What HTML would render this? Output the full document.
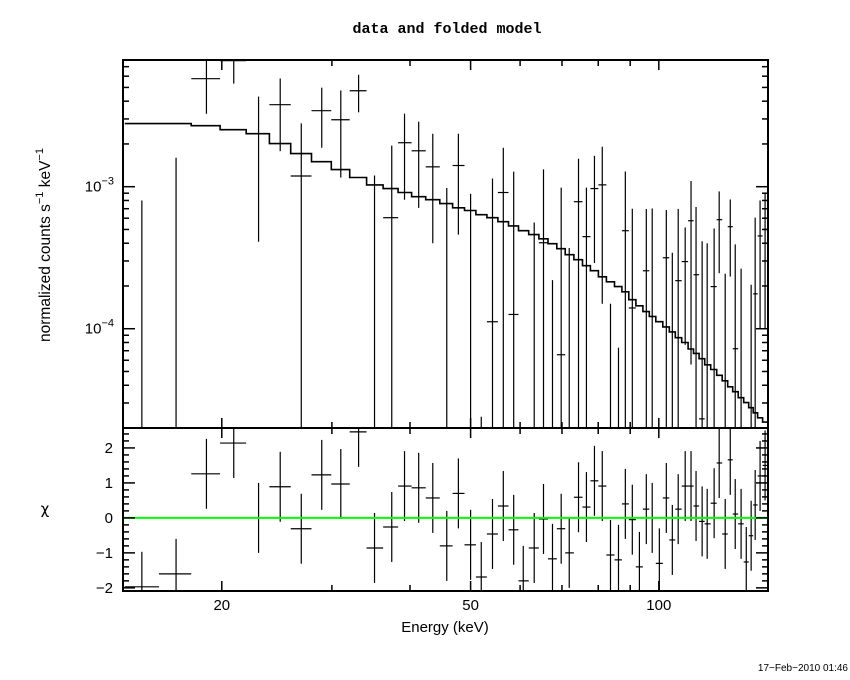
<!DOCTYPE html>
<html><head><meta charset="utf-8">
<style>
html,body{margin:0;padding:0;background:#fff;}
svg{display:block;font-family:"Liberation Sans",sans-serif;}
</style></head>
<body>
<svg id="chart" width="850" height="680" viewBox="0 0 850 680" xmlns="http://www.w3.org/2000/svg">
<rect x="0" y="0" width="850" height="680" fill="#fff"/>
<text x="447" y="33" text-anchor="middle" font-family="Liberation Mono, monospace" font-weight="bold" font-size="15">data and folded model</text>
<text transform="translate(50,245) rotate(-90)" text-anchor="middle" font-size="15.5">normalized counts s<tspan dy="-7" font-size="11">−1</tspan><tspan dy="7"> keV</tspan><tspan dy="-7" font-size="11">−1</tspan></text>
<text x="45" y="514" text-anchor="middle" font-size="15" font-family="DejaVu Sans, sans-serif">χ</text>
<text x="445" y="632" text-anchor="middle" font-size="15">Energy (keV)</text>
<text x="848" y="671" text-anchor="end" font-size="10">17−Feb−2010 01:46</text>
<g id="grid"></g>
<g id="marks"></g>
<g id="axes"></g>
</svg>
<script>
// ---- data ----
const energies = [14.9,16.9,18.9,20.9,22.9,24.8,26.8,28.9,31.0,33.1,35.1,37.4,39.2,41.3,43.5,45.8,47.8,50.0,52.0,54.2,56.4,58.6,60.7,63.2,65.4,67.6,69.8,71.9,74.4,76.6,78.9,81.2,83.7,86.2,88.4,90.7,93.1,95.5,97.6,100.2,102.8,105.1,107.4,110.2,112.6,114.7,117.3,119.5,122.6,124.9,127.7,130.1,132.5,135.4,138.0,140.5,142.6,145.2,147.9];
const fluxMilli = [0,0,5.76,7.72,2.36,3.78,1.19,3.43,2.96,4.74,0,0.605,2.04,1.79,1.38,0,1.41,0,0,0.112,0.91,0.126,0,0,0.403,0,0.0656,0,0.784,0.445,0.97,1.03,0,0,0.49,0.14,0,0.256,0.122,0,0.316,0,0.218,0.297,0.576,0.24,0.0232,0,0.198,0.586,0,0.523,0.0723,0,0,0,0.176,0.45,0.5];
const fluxErrMilli = [0.8,1.6,2.5,2.4,1.95,2.0,1.6,1.55,1.8,1.4,1.2,1.34,1.23,1.08,0.98,0.98,0.95,0.89,0.024,1.03,0.97,1.15,0.02,0.56,0.92,0.22,0.92,0.37,0.79,0.54,0.68,0.88,0.15,0.0735,0.79,0.56,0.02,0.44,0.58,0.02,0.37,0.343,0.48,0.22,0.52,0.48,0.39,0.4,0.31,0.34,0.244,0.29,0.32,0.265,0.02,0.204,0.43,0.35,0.4];
const modelMilli = [2.78,2.78,2.69,2.52,2.36,2.01,1.71,1.50,1.32,1.16,1.03,0.97,0.91,0.85,0.81,0.76,0.71,0.68,0.635,0.605,0.567,0.53,0.49,0.46,0.43,0.397,0.366,0.332,0.306,0.278,0.256,0.232,0.214,0.198,0.182,0.16,0.145,0.132,0.122,0.112,0.103,0.095,0.0865,0.08,0.072,0.067,0.0615,0.0557,0.0516,0.047,0.043,0.039,0.036,0.0327,0.0302,0.0278,0.0256,0.0236,0.022];
const residuals = [-1.97,-1.6,1.26,2.14,0.0,0.89,-0.31,1.23,0.97,2.46,-0.86,-0.26,0.91,0.86,0.57,-0.8,0.7,-0.77,-1.69,-0.46,0.34,-0.34,-1.8,-0.86,-0.03,-1.17,-0.31,-1.0,0.59,0.31,1.06,0.91,-1.06,-1.2,0.4,-0.05,-1.4,0.25,0.0,-1.3,0.57,-0.63,0.25,0.91,0.91,0.34,-0.1,-0.17,0.42,1.57,-0.46,1.66,0.11,-0.17,-1.26,-0.51,0.37,1.2,1.5];
const xTickLabels = [20,50,100];
const yTopTickLabels = [["10","−3",1e-3],["10","−4",1e-4]];
const yBotTickLabels = [2,1,0,-1,-2];

// ---- layout ----
const L=123,R=768,T=60,M=428,B=591;
const xMin=13.9,xMax=149.5, yMin=2.0e-5, yMax=7.8e-3, cMin=-2.09, cMax=2.57;
const X=e=>L+(Math.log10(e)-Math.log10(xMin))/(Math.log10(xMax)-Math.log10(xMin))*(R-L);
const Y=v=>{ if(v<=0) return 1e6; return M-(Math.log10(v)-Math.log10(yMin))/(Math.log10(yMax)-Math.log10(yMin))*(M-T);};
const C=c=>B-(c-cMin)/(cMax-cMin)*(B-M);
const NS="http://www.w3.org/2000/svg";
const marks=document.getElementById('marks'), axes=document.getElementById('axes');
const clampT=y=>Math.max(T,Math.min(M,y)), clampB=y=>Math.max(M,Math.min(B,y));
function mk(tag,parent,attrs){const el=document.createElementNS(NS,tag);for(const k in attrs)el.setAttribute(k,attrs[k]);parent.appendChild(el);return el;}

// bin edges
const edges=[];
for(let i=0;i<=energies.length;i++){
  let e;
  if(i===0) e=energies[0]*energies[0]/Math.sqrt(energies[0]*energies[1]);
  else if(i===energies.length){const n=energies.length-1;e=energies[n]*energies[n]/Math.sqrt(energies[n]*energies[n-1]);}
  else e=Math.sqrt(energies[i-1]*energies[i]);
  edges.push(e);
}

// model step line
let d='';
for(let i=0;i<energies.length;i++){
  const x0=Math.max(L,X(edges[i])), x1=Math.min(R,X(edges[i+1])), y=clampT(Y(modelMilli[i]*1e-3));
  d+=(i===0?'M':'L')+x0.toFixed(1)+','+y.toFixed(1)+'L'+x1.toFixed(1)+','+y.toFixed(1);
}
const model=mk('path',marks,{d:d,fill:'none',stroke:'#000','stroke-width':1.6});



// data points
for(let i=0;i<energies.length;i++){
  const v=fluxMilli[i]*1e-3, e=fluxErrMilli[i]*1e-3;
  const xc=X(energies[i]), x0=Math.max(L,X(edges[i])), x1=Math.min(R,X(edges[i+1]));
  const g=mk('g',marks,{stroke:'#000','stroke-width':1.2});
  
  
  const yu=clampT(Y(v+e)), yl=clampT(Y(v-e)), yc=Y(v);
  if(yu<M) mk('line',g,{x1:xc,x2:xc,y1:yu,y2:yl});
  if(yc>=T&&yc<=M) mk('line',g,{x1:x0,x2:x1,y1:yc,y2:yc});
  const r=residuals[i];
  const g2=mk('g',marks,{stroke:'#000','stroke-width':1.2});
  
  
  mk('line',g2,{x1:xc,x2:xc,y1:clampB(C(r+1)),y2:clampB(C(r-1))});
  const rc=C(r);
  if(rc>=M&&rc<=B) mk('line',g2,{x1:x0,x2:x1,y1:rc,y2:rc});
}

// zero line
const zl=mk('line',marks,{x1:L,x2:R,y1:C(0),y2:C(0),stroke:'#00ff00','stroke-width':2});



// frames
const f1=mk('rect',axes,{x:L,y:T,width:R-L,height:M-T,fill:'none',stroke:'#000','stroke-width':2});


const f2=mk('rect',axes,{x:L,y:M,width:R-L,height:B-M,fill:'none',stroke:'#000','stroke-width':2});



// x ticks
const tg=mk('g',axes,{stroke:'#000','stroke-width':1.5});
for(let e=20;e<=100;e+=10){
  const x=X(e), big=(e===20||e===50||e===100)?10:6;
  [[T,T+big],[M,M-big],[M,M+big],[B,B-big]].forEach(p=>mk('line',tg,{x1:x,x2:x,y1:p[0],y2:p[1]}));
}
xTickLabels.forEach(v=>{
  const t=mk('text',axes,{x:X(v),y:610,'text-anchor':'middle','font-size':15});
  t.textContent=v;
  
  
});
// y top ticks
for(let p=-5;p<=-3;p++){for(let k=1;k<=9;k++){const v=k*Math.pow(10,p);if(v<yMin||v>yMax)continue;const y=Y(v),len=k===1?12:6;
  mk('line',tg,{x1:L,x2:L+len,y1:y,y2:y});mk('line',tg,{x1:R,x2:R-len,y1:y,y2:y});}}
yTopTickLabels.forEach(l=>{
  const t=mk('text',axes,{x:114,y:Y(l[2])+5,'text-anchor':'end','font-size':15});
  t.innerHTML=l[0]+'<tspan dy="-7" font-size="11">'+l[1]+'</tspan>';
  
  
});
// residual ticks
for(let c=-2;c<=2.5;c+=0.2){const cc=Math.round(c*10)/10;const y=C(cc);const len=Math.abs(cc-Math.round(cc))<1e-6?12:6;
  mk('line',tg,{x1:L,x2:L+len,y1:y,y2:y});mk('line',tg,{x1:R,x2:R-len,y1:y,y2:y});}
yBotTickLabels.forEach(v=>{
  const t=mk('text',axes,{x:113,y:C(v)+5,'text-anchor':'end','font-size':15});
  t.textContent=v<0?'−'+(-v):v;
  
  
});
</script>
</body></html>
